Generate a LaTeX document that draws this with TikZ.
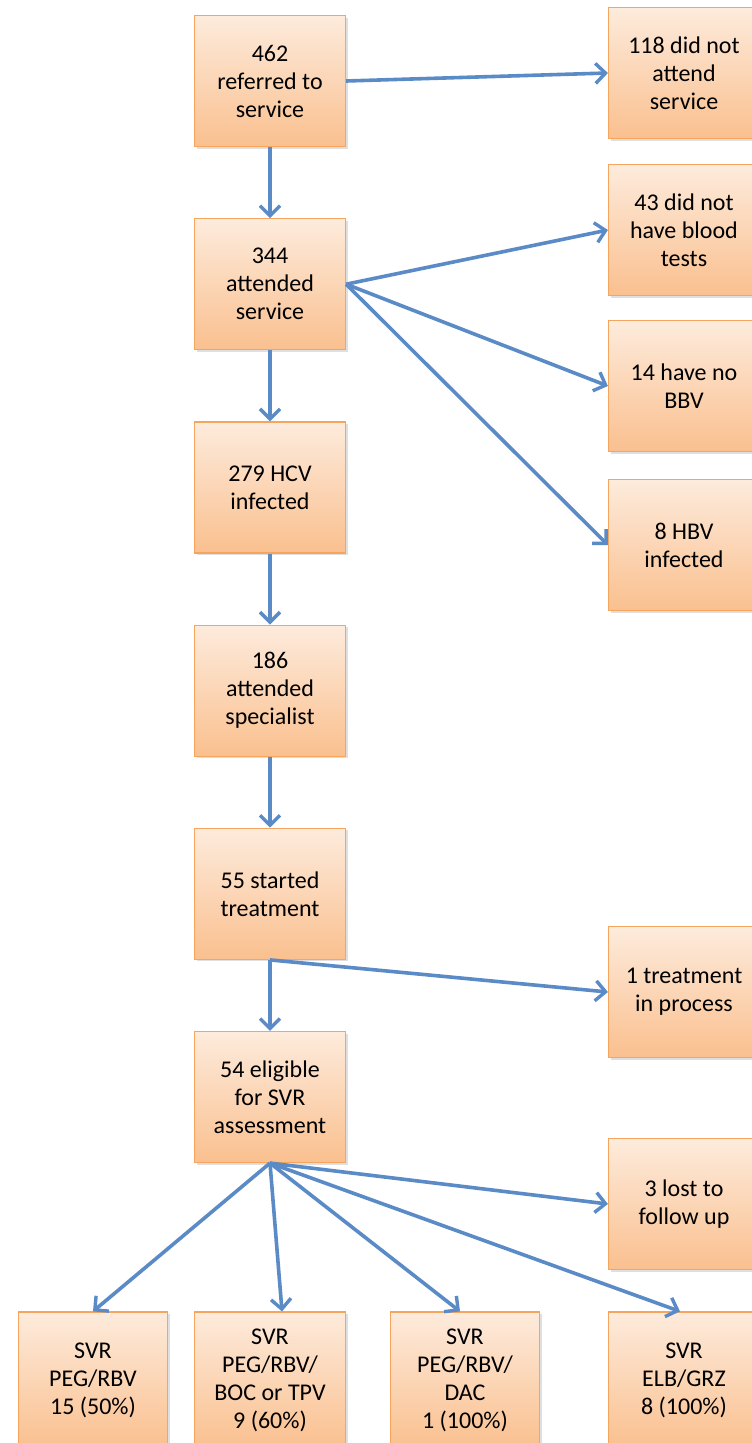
\documentclass[tikz,border=0pt]{standalone}
\usepackage{fontspec}
\setmainfont{Carlito}
\usetikzlibrary{positioning}
\usetikzlibrary{arrows.meta}
\usetikzlibrary{shadows}
\usetikzlibrary{calc}

\definecolor{boxtop}{HTML}{FDEBDC}
\definecolor{boxbot}{HTML}{FAC08F}
\definecolor{boxline}{HTML}{F6A55E}
\definecolor{flowblue}{HTML}{5A8BC6}

\tikzset{
    box/.style={rectangle, minimum width=151pt, minimum height=131pt, align=center, draw=boxline, line width=1.2pt, top color=boxtop, bottom color=boxbot, font=\fontsize{24}{28}\selectfont, drop shadow={shadow xshift=2pt, shadow yshift=-2pt, opacity=0.25}},
    flow/.style={draw=flowblue, line width=3.6pt, -{Straight Barb[length=10pt, width=20pt, line width=3.4pt]}},
}

\begin{document}
\begin{tikzpicture}[x=1pt, y=-1pt]
    \useasboundingbox (0, 0) rectangle (752, 1443);
    \clip (0, 0) rectangle (752, 1443);

    % main column
    \node [box] (referred) at (270, 81) {462\\referred to\\service};
    \node [box, below=71pt of referred] (attended) {344\\attended\\service};
    \node [box, below=71pt of attended] (hcv) {279 HCV\\infected};
    \node [box, below=71pt of hcv] (specialist) {186\\attended\\specialist};
    \node [box, below=71pt of specialist] (started) {55 started\\treatment};
    \node [box, below=71pt of started] (eligible) {54 eligible\\for SVR\\assessment};

    % side boxes
    \node [box] (noattend) at (684, 73) {118 did not\\attend\\service};
    \node [box] (noblood) at (684, 230) {43 did not\\have blood\\tests};
    \node [box] (nobbv) at (684, 386) {14 have no\\BBV};
    \node [box] (hbv) at (684, 545) {8 HBV\\infected};
    \node [box] (inprocess) at (684, 992) {1 treatment\\in process};
    \node [box] (lost) at (684, 1204) {3 lost to\\follow up};

    % outcome row
    \node [box, minimum width=149pt, minimum height=136pt] (pegrbv) at (93, 1380) {SVR\\PEG/RBV\\15 (50\%)};
    \node [box, minimum height=136pt] (bocpv) at (270, 1380) {SVR\\PEG/RBV/\\BOC or TPV\\9 (60\%)};
    \node [box, minimum width=149pt, minimum height=136pt] (dac) at (465, 1380) {SVR\\PEG/RBV/\\DAC\\1 (100\%)};
    \node [box, minimum height=136pt] (elbgrz) at (684, 1380) {SVR\\ELB/GRZ\\8 (100\%)};

    \draw [flow] (referred.east) -- (noattend.west);
    \draw [flow] (referred) -- (attended);
    \draw [flow] (attended.east) -- (noblood.west);
    \draw [flow] (attended.east) -- (nobbv.west);
    \draw [flow] (attended.east) -- (hbv.west);
    \draw [flow] (attended) -- (hcv);
    \draw [flow] (hcv) -- (specialist);
    \draw [flow] (specialist) -- (started);
    \draw [flow] (started) -- (eligible);
    \draw [flow] (started.south) -- (inprocess.west);
    \draw [flow] (eligible.south) -- (lost.west);
    \draw [flow] (eligible.south) -- (pegrbv.north);
    \draw [flow] (eligible.south) -- ($(bocpv.north)+(12, 0)$);
    \draw [flow] (eligible.south) -- ($(dac.north)+(-5, 0)$);
    \draw [flow] (eligible.south) -- ($(elbgrz.north)+(-4, 0)$);
\end{tikzpicture}
\end{document}
